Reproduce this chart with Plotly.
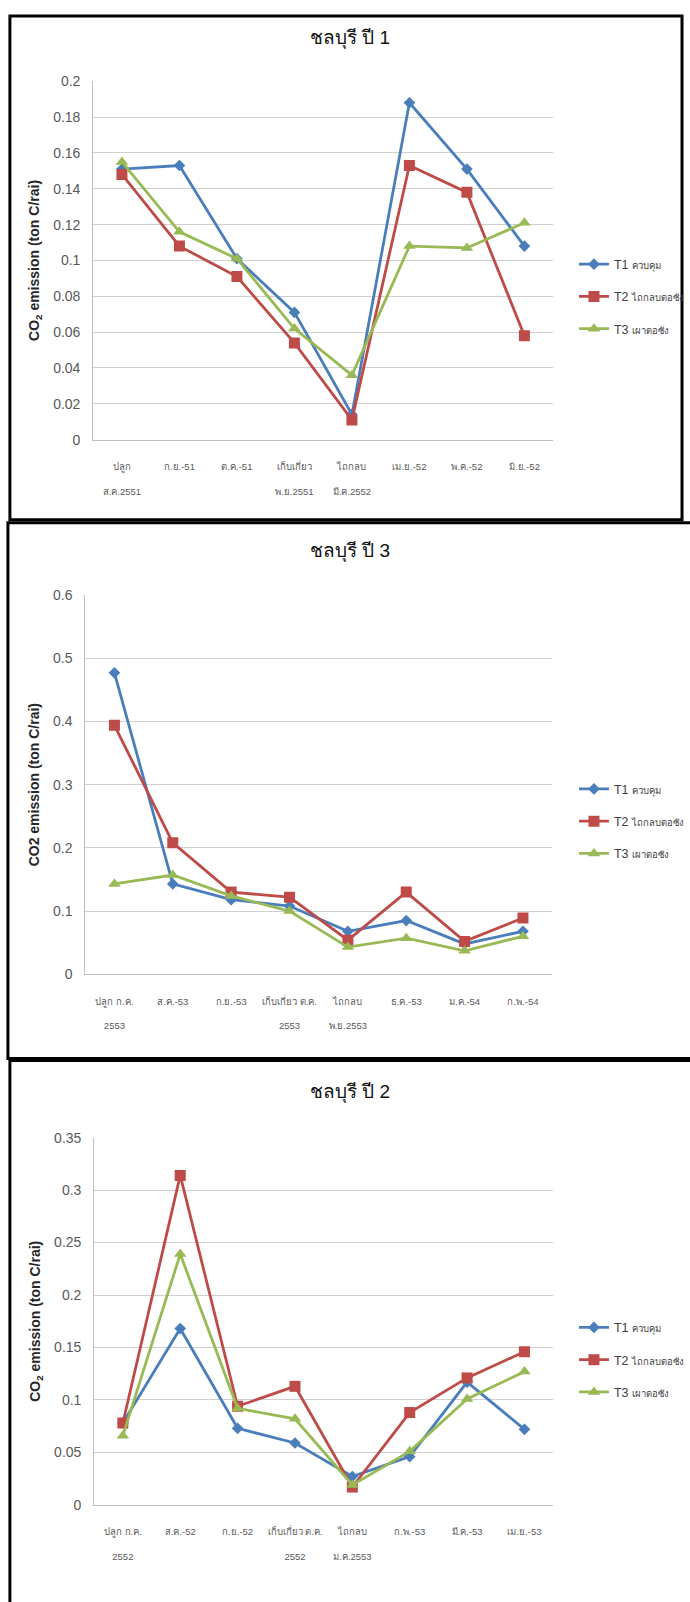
import plotly.graph_objects as go

# ---------------- data ----------------
series_codes = ["T1", "T2", "T3"]
series_thai = ["ควบคุม", "ไถกลบตอซัง", "เผาตอซัง"]

titles = ["ชลบุรี ปี 1", "ชลบุรี ปี 3", "ชลบุรี ปี 2"]
ytitles = ["CO<sub>2</sub> emission (ton C/rai)",
           "CO2 emission (ton C/rai)",
           "CO<sub>2</sub> emission (ton C/rai)"]

cats_y1 = ["ปลูก<br><br>ส.ค.2551", "ก.ย.-51", "ต.ค.-51", "เก็บเกี่ยว<br><br>พ.ย.2551",
           "ไถกลบ<br><br>มี.ค.2552", "เม.ย.-52", "พ.ค.-52", "มิ.ย.-52"]
t1_y1 = [0.151, 0.153, 0.101, 0.071, 0.014, 0.188, 0.151, 0.108]
t2_y1 = [0.148, 0.108, 0.091, 0.054, 0.011, 0.153, 0.138, 0.058]
t3_y1 = [0.155, 0.116, 0.101, 0.062, 0.036, 0.108, 0.107, 0.121]

cats_y3 = ["ปลูก ก.ค.<br><br>2553", "ส.ค.-53", "ก.ย.-53", "เก็บเกี่ยว ต.ค.<br><br>2553",
           "ไถกลบ<br><br>พ.ย.2553", "ธ.ค.-53", "ม.ค.-54", "ก.พ.-54"]
t1_y3 = [0.477, 0.143, 0.118, 0.108, 0.068, 0.085, 0.048, 0.068]
t2_y3 = [0.394, 0.208, 0.130, 0.122, 0.054, 0.130, 0.052, 0.089]
t3_y3 = [0.143, 0.157, 0.124, 0.100, 0.043, 0.057, 0.037, 0.060]

cats_y2 = ["ปลูก ก.ค.<br><br>2552", "ส.ค.-52", "ก.ย.-52", "เก็บเกี่ยว ต.ค.<br><br>2552",
           "ไถกลบ<br><br>ม.ค.2553", "ก.พ.-53", "มี.ค.-53", "เม.ย.-53"]
t1_y2 = [0.078, 0.168, 0.073, 0.059, 0.027, 0.046, 0.117, 0.072]
t2_y2 = [0.078, 0.314, 0.094, 0.113, 0.017, 0.088, 0.121, 0.146]
t3_y2 = [0.066, 0.239, 0.092, 0.082, 0.019, 0.051, 0.101, 0.127]

y_ranges = [[0, 0.2], [0, 0.6], [0, 0.35]]
y_dticks = [0.02, 0.1, 0.05]

# ---------------- style ----------------
W, H = 690, 1602
colors = ["#4A7EBB", "#BE4B48", "#98B954"]
symbols = ["diamond", "square", "triangle-up"]
msizes = [9, 11, 11]
FONT = "Liberation Sans Narrow, Liberation Sans, Noto Sans, sans-serif"

# plot areas in pixels: (x0, x1, ytop, ybottom)
areas = [(94, 558, 74, 436), (86, 557, 593, 976), (95, 558, 1141, 1512)]
legend_tops = [244, 774, 1318]
title_y = [31, 549, 1095]
borders = [(10, 688, 8, 517), (8, 700, 520, 1061), (10, 700, 1063, 1612)]

panels = [
    (cats_y1, [t1_y1, t2_y1, t3_y1]),
    (cats_y3, [t1_y3, t2_y3, t3_y3]),
    (cats_y2, [t1_y2, t2_y2, t3_y2]),
]

fig = go.Figure()
layout = dict(
    width=W, height=H, margin=dict(l=0, r=0, t=0, b=0),
    paper_bgcolor="white", plot_bgcolor="white",
    font=dict(family=FONT, color="#404040"),
    shapes=[], annotations=[],
)

for i, (cats, vals) in enumerate(panels):
    n = "" if i == 0 else str(i + 1)
    x0, x1, yt, yb = areas[i]
    lg = "legend" if i == 0 else f"legend{i + 1}"
    for k in range(3):
        name = f"{series_codes[k]} <span style='font-size:9.5px'>{series_thai[k]}</span>"
        fig.add_trace(go.Scatter(
            x=cats, y=vals[k], name=name,
            mode="lines+markers",
            line=dict(color=colors[k], width=2.8),
            marker=dict(symbol=symbols[k], size=msizes[k], color=colors[k]),
            xaxis="x" + n, yaxis="y" + n, legend=lg,
            legendgroup=f"g{i}{k}",
        ))
    layout["xaxis" + n] = dict(
        domain=[x0 / W, x1 / W], anchor="y" + n, type="category",
        range=[-0.5, 7.5], showgrid=False, showline=True,
        linecolor="#BFBFBF", linewidth=1, ticks="",
        tickfont=dict(size=9.5, color="#595959", family=FONT),
        ticklabelstandoff=18, tickangle=0,
    )
    layout["yaxis" + n] = dict(
        domain=[1 - yb / H, 1 - yt / H], anchor="x" + n,
        range=y_ranges[i], dtick=y_dticks[i], showgrid=True,
        gridcolor="#D0D0D0", gridwidth=1, showline=True,
        linecolor="#BFBFBF", linewidth=1, zeroline=False, ticks="",
        tickfont=dict(size=14, color="#595959", family=FONT),
        ticklabelstandoff=9,
        title=dict(text=ytitles[i], standoff=10,
                   font=dict(size=14, color="#262626",
                             family="Liberation Sans, sans-serif", weight="bold")),
    )
    layout[lg] = dict(
        x=579 / W, xanchor="left", y=1 - legend_tops[i] / H, yanchor="top",
        bgcolor="rgba(0,0,0,0)", font=dict(size=12.5, color="#404040", family=FONT),
        tracegroupgap=13, itemwidth=30, traceorder="grouped",
    )
    layout["annotations"].append(dict(
        text=titles[i], xref="paper", yref="paper", x=353 / W, y=1 - title_y[i] / H,
        xanchor="center", yanchor="middle", showarrow=False,
        font=dict(size=19, color="#111111", family=FONT),
    ))
    bx0, bx1, by0, by1 = borders[i]
    layout["shapes"].append(dict(
        type="rect", xref="paper", yref="paper",
        x0=bx0 / W, x1=bx1 / W, y0=1 - by1 / H, y1=1 - by0 / H,
        line=dict(color="black", width=3), fillcolor="rgba(0,0,0,0)", layer="above",
    ))

fig.update_layout(**layout)
fig.write_html(
    "out.html",
    config={"displayModeBar": False},
    post_script="document.body.style.margin='0';document.body.style.padding='0';"
                "document.documentElement.style.overflow='hidden';",
)
